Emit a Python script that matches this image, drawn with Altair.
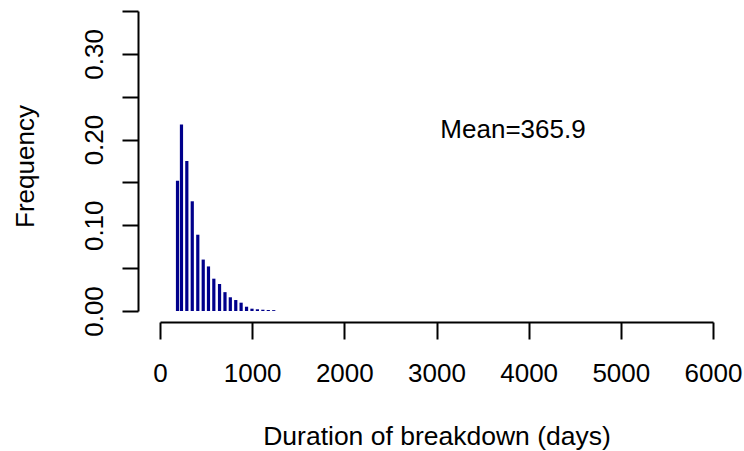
import altair as alt
import pandas as pd

# Bar positions (days) and frequencies
duration = [190, 233, 291, 350, 410, 469, 526, 584, 646, 705,
            763, 822, 880, 939, 998, 1057, 1116, 1175, 1234]
frequency = [0.152, 0.2175, 0.175, 0.128, 0.089, 0.060, 0.052, 0.0377, 0.0315, 0.022,
             0.016, 0.0128, 0.0097, 0.005, 0.0027, 0.002, 0.0015, 0.0012, 0.001]

x_ticks = [0, 1000, 2000, 3000, 4000, 5000, 6000]
y_ticks = [0.0, 0.05, 0.10, 0.15, 0.20, 0.25, 0.30, 0.35]

note_text = ["Mean=365.9"]
note_x = [3830]
note_y = [0.202]

FONT = "Liberation Sans"
FS = 26

df = pd.DataFrame({"duration": duration, "freq": frequency})
note = pd.DataFrame({"duration": note_x, "freq": note_y, "label": note_text})

xscale = alt.Scale(domain=[0, 6000], nice=False, zero=False)
yscale = alt.Scale(domain=[0, 0.35], nice=False)

x_axis = alt.Axis(values=x_ticks, format="d", title="Duration of breakdown (days)",
                  offset=11, tickSize=17, labelPadding=42, labelBaseline="alphabetic",
                  labelAngle=0, labelAlign="center", labelOverlap=False,
                  titleBaseline="alphabetic", titleY=122, titleAnchor="middle",
                  titleFontSize=26.5)
y_axis = alt.Axis(values=y_ticks, title="Frequency",
                  labelExpr="round(datum.value*100) % 10 == 0 ? format(datum.value, '.2f') : ''",
                  offset=22, tickSize=16, labelPadding=20, labelAngle=270,
                  labelAlign="center", labelBaseline="alphabetic", labelOverlap=False,
                  titleAngle=270, titleBaseline="alphabetic", titleAlign="center",
                  titleX=-105, titleY=155)

bars = alt.Chart(df).mark_rule(color="#00008B", strokeWidth=3.2, strokeCap="butt").encode(
    x=alt.X("duration:Q", scale=xscale, axis=x_axis),
    y=alt.Y("freq:Q", scale=yscale, axis=y_axis),
    y2=alt.datum(0),
)

text = alt.Chart(note).mark_text(font=FONT, fontSize=FS, align="center",
                                 baseline="alphabetic", color="black").encode(
    x=alt.X("duration:Q", scale=xscale, axis=x_axis),
    y=alt.Y("freq:Q", scale=yscale, axis=y_axis),
    text="label:N",
)

chart = alt.layer(bars, text).properties(
    width=553, height=300,
    padding={"left": 160, "top": 11, "right": 31, "bottom": 140},
    autosize="none",
    background="white",
).configure_view(stroke=None).configure_axis(
    grid=False,
    domainColor="black", domainWidth=2,
    tickColor="black", tickWidth=2,
    labelFont=FONT, labelFontSize=FS, labelColor="black",
    titleFont=FONT, titleFontSize=FS, titleColor="black", titleFontWeight="normal",
)

chart.save("out.html", embed_options={"renderer": "svg", "actions": False})
